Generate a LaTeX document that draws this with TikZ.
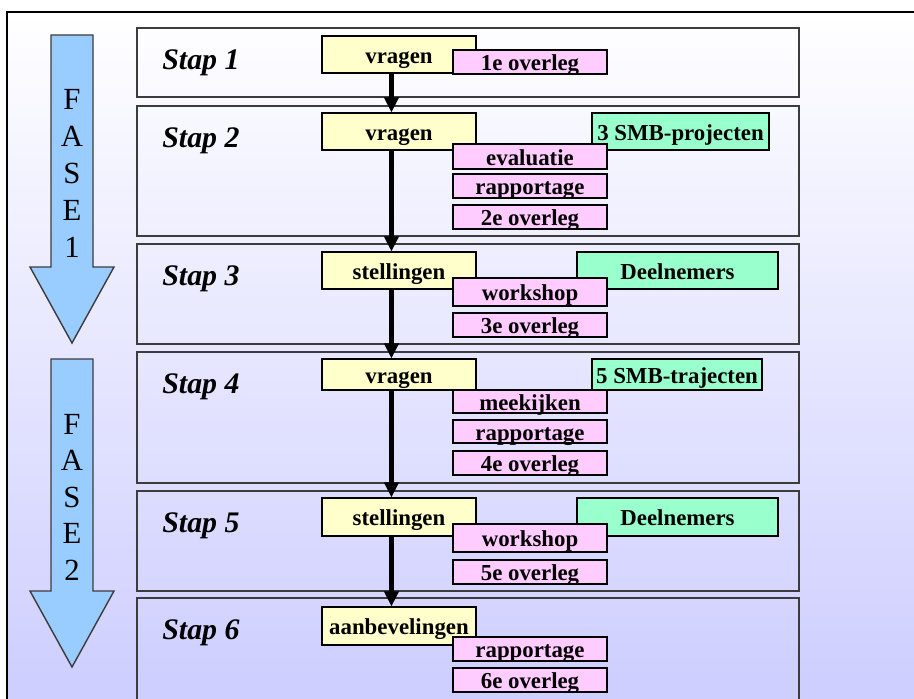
\documentclass[tikz,border=0pt]{standalone}
\usepackage{fontspec}
\setmainfont{Liberation Serif}
\usetikzlibrary{arrows.meta}

\definecolor{vraaggeel}{HTML}{FFFFCC}
\definecolor{overlegroze}{HTML}{FFCCFF}
\definecolor{groepgroen}{HTML}{99FFCC}
\definecolor{faseblauw}{HTML}{99CCFF}
\definecolor{achtergrond}{HTML}{CCCCFF}
\definecolor{randgrijs}{HTML}{3C3C3C}

\newcommand{\myvak}[7]
{
\node[#2, minimum width={(#5-#3)*0.02cm}, minimum height={(#6-#4)*0.02cm}]
  (#1) at ({(#3+#5)/2},{(#4+#6)/2}) {#7};
}

\tikzset{
  stapbox/.style={draw=randgrijs, line width=0.9pt, inner sep=0pt},
  vakje/.style={draw=black, line width=0.6pt, inner sep=0pt,
    font=\fontsize{13}{15}\bfseries\selectfont, text height=0.34cm, text depth=0pt},
  vraag/.style={vakje, fill=vraaggeel},
  overleg/.style={vakje, fill=overlegroze},
  groep/.style={vakje, fill=groepgroen},
  staplabel/.style={anchor=base west, inner sep=0pt,
    font=\fontsize{17}{20}\bfseries\itshape\selectfont},
  faseletter/.style={anchor=base, inner sep=0pt, font=\fontsize{17.5}{20}\selectfont},
  fasepijl/.style={fill=faseblauw, draw=randgrijs, line width=0.8pt},
  doorloop/.style={line width=2.6pt, -{Triangle[width=0.28cm, length=0.3cm]}},
}

\begin{document}
\begin{tikzpicture}[x=0.02cm, y=-0.02cm]
  \clip (0,0) rectangle (914,698);
  \shade[top color=white, bottom color=achtergrond] (7,12) rectangle (930,720);
  \draw[line width=0.7pt] (7,720) -- (7,12) -- (930,12);

  % fases
  \draw[fasepijl] (51,35) -- (93,35) -- (93,267) -- (114,267) -- (72,343)
    -- (30,267) -- (51,267) -- cycle;
  \foreach \letter [count=\i] in {F,A,S,E,1}
    \node[faseletter] (fa\i) at (72,{72+37*\i}) {\letter};
  \draw[fasepijl] (51,359) -- (93,359) -- (93,591) -- (114,591) -- (72,667)
    -- (30,591) -- (51,591) -- cycle;
  \foreach \letter [count=\i] in {F,A,S,E,2}
    \node[faseletter] (fb\i) at (72,{397.5+36.5*\i}) {\letter};

  % stappen
  \myvak{stap1}{stapbox}{137}{28}{799}{97}{}
  \myvak{stap2}{stapbox}{137}{106}{799}{236}{}
  \myvak{stap3}{stapbox}{137}{244}{799}{344}{}
  \myvak{stap4}{stapbox}{137}{352}{799}{483}{}
  \myvak{stap5}{stapbox}{137}{491}{799}{591}{}
  \myvak{stap6}{stapbox}{137}{598}{799}{720}{}
  \node[staplabel] (t1) at (162,69) {Stap 1};
  \node[staplabel] (t2) at (162,147) {Stap 2};
  \node[staplabel] (t3) at (162,285) {Stap 3};
  \node[staplabel] (t4) at (162,393) {Stap 4};
  \node[staplabel] (t5) at (162,532) {Stap 5};
  \node[staplabel] (t6) at (162,639) {Stap 6};

  % vragen en stellingen
  \myvak{v1}{vraag}{322}{36}{476}{73}{vragen}
  \myvak{v2}{vraag}{322}{113}{476}{150}{vragen}
  \myvak{v3}{vraag}{322}{252}{476}{289}{stellingen}
  \myvak{v4}{vraag}{322}{359}{476}{390}{vragen}
  \myvak{v5}{vraag}{322}{498}{476}{536}{stellingen}
  \myvak{v6}{vraag}{322}{607}{476}{645}{aanbevelingen}

  \draw[doorloop] ([xshift=1.4cm]v1.south west) -- ([xshift=1.4cm]v2.north west);
  \draw[doorloop] ([xshift=1.4cm]v2.south west) -- ([xshift=1.4cm]v3.north west);
  \draw[doorloop] ([xshift=1.4cm]v3.south west) -- ([xshift=1.4cm]v4.north west);
  \draw[doorloop] ([xshift=1.4cm]v4.south west) -- ([xshift=1.4cm]v5.north west);
  \draw[doorloop] ([xshift=1.4cm]v5.south west) -- ([xshift=1.4cm]v6.north west);

  % deelnemers
  \myvak{g2}{groep}{592}{113}{769}{150}{3 SMB-projecten}
  \myvak{g3}{groep}{577}{252}{778}{289}{Deelnemers}
  \myvak{g4}{groep}{592}{359}{762}{390}{5 SMB-trajecten}
  \myvak{g5}{groep}{577}{498}{778}{536}{Deelnemers}

  % overleg
  \myvak{o1}{overleg}{453}{50}{607}{74}{1e overleg}
  \myvak{e2}{overleg}{453}{144}{607}{169}{evaluatie}
  \myvak{r2}{overleg}{453}{174}{607}{198}{rapportage}
  \myvak{o2}{overleg}{453}{205}{607}{229}{2e overleg}
  \myvak{w3}{overleg}{453}{278}{607}{306}{workshop}
  \myvak{o3}{overleg}{453}{313}{607}{337}{3e overleg}
  \myvak{m4}{overleg}{453}{390}{607}{413}{meekijken}
  \myvak{r4}{overleg}{453}{420}{607}{443}{rapportage}
  \myvak{o4}{overleg}{453}{451}{607}{475}{4e overleg}
  \myvak{w5}{overleg}{453}{524}{607}{552}{workshop}
  \myvak{o5}{overleg}{453}{560}{607}{584}{5e overleg}
  \myvak{r6}{overleg}{453}{637}{607}{661}{rapportage}
  \myvak{o6}{overleg}{453}{668}{607}{692}{6e overleg}
\end{tikzpicture}
\end{document}
